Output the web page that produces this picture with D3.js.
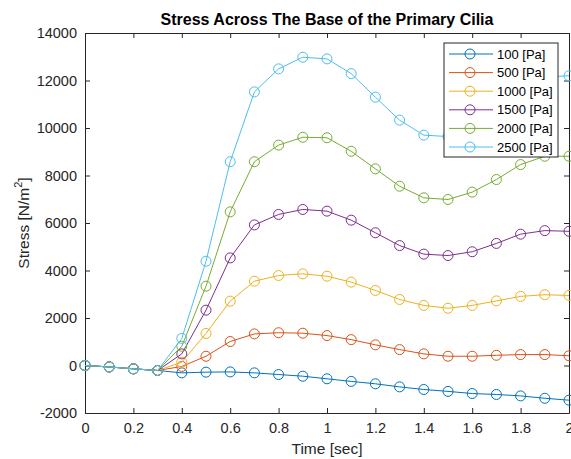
<!DOCTYPE html>
<html>
  <head>
    <meta charset="utf-8">
    <style>
      body { margin: 0; background: #fff; overflow: hidden; }
      text { font-family: "Liberation Sans", Arial, sans-serif; fill: #262626; }
      .axis path, .axis line { stroke: #262626; }
    </style>
  </head>
  <body>
    <svg width="571" height="459"></svg>
  </body>
  <script src="https://d3js.org/d3.v7.min.js"></script>
  <script>
    const time = [0, 0.1, 0.2, 0.3, 0.4, 0.5, 0.6, 0.7, 0.8, 0.9, 1.0,
                  1.1, 1.2, 1.3, 1.4, 1.5, 1.6, 1.7, 1.8, 1.9, 2.0];
    const labels = ['100 [Pa]', '500 [Pa]', '1000 [Pa]', '1500 [Pa]', '2000 [Pa]', '2500 [Pa]'];
    const colors = ['#0072BD', '#D95319', '#EDB120', '#7E2F8E', '#77AC30', '#4DBEEE'];

    const s100  = [0, -60, -140, -210, -310, -280, -270, -310, -380, -450, -560,
                   -670, -770, -900, -1010, -1090, -1180, -1220, -1280, -1380, -1460];
    const s500  = [0, -60, -140, -210, -40, 390, 1010, 1330, 1380, 1360, 1260,
                   1090, 870, 670, 490, 390, 390, 430, 460, 460, 410];
    const s1000 = [0, -60, -140, -210, 140, 1350, 2710, 3550, 3790, 3860, 3760,
                   3510, 3160, 2780, 2530, 2410, 2530, 2720, 2910, 2980, 2950];
    const s1500 = [0, -60, -140, -210, 490, 2330, 4530, 5920, 6360, 6570, 6500,
                   6120, 5590, 5050, 4690, 4630, 4790, 5140, 5530, 5680, 5650];
    const s2000 = [0, -60, -140, -210, 810, 3340, 6470, 8580, 9280, 9610, 9590,
                   9020, 8280, 7550, 7060, 6990, 7300, 7830, 8460, 8810, 8810];
    const s2500 = [0, -60, -140, -210, 1140, 4390, 8580, 11520, 12490, 12980, 12910,
                   12290, 11300, 10330, 9700, 9640, 10050, 10800, 11650, 12150, 12200];
    const series = [s100, s500, s1000, s1500, s2000, s2500];

    const xTicks = [0, 0.2, 0.4, 0.6, 0.8, 1, 1.2, 1.4, 1.6, 1.8, 2];
    const yTicks = [-2000, 0, 2000, 4000, 6000, 8000, 10000, 12000, 14000];

    const svg = d3.select('svg');
    const pl = 85, pr = 569, pt = 33, pb = 413;

    const x = d3.scaleLinear().domain([0, 2]).range([pl, pr]);
    const y = d3.scaleLinear().domain([-2000, 14000]).range([pb, pt]);
    const plain = d => String(d);

    // box with ticks pointing in, like matlab
    svg.append('g').attr('class', 'axis')
      .attr('transform', `translate(0,${pb})`)
      .call(d3.axisBottom(x).tickValues(xTicks).tickSizeInner(-5).tickSizeOuter(0).tickPadding(10).tickFormat(plain))
      .call(g => g.selectAll('text').style('font-size', '14.5px'));
    svg.append('g').attr('class', 'axis')
      .attr('transform', `translate(0,${pt})`)
      .call(d3.axisTop(x).tickValues(xTicks).tickSizeInner(-5).tickSizeOuter(0).tickFormat(''));
    svg.append('g').attr('class', 'axis')
      .attr('transform', `translate(${pl},0)`)
      .call(d3.axisLeft(y).tickValues(yTicks).tickSizeInner(-5).tickSizeOuter(0).tickPadding(8).tickFormat(plain))
      .call(g => g.selectAll('text').style('font-size', '14.5px'));
    svg.append('g').attr('class', 'axis')
      .attr('transform', `translate(${pr},0)`)
      .call(d3.axisRight(y).tickValues(yTicks).tickSizeInner(-5).tickSizeOuter(0).tickFormat(''));
    svg.selectAll('.axis .domain').attr('stroke-width', 1);

    const line = d3.line().x((d, i) => x(time[i])).y(d => y(d));

    const lines = svg.append('g');
    series.forEach((s, k) => {
      const g = lines.append('g');
      g.append('path')
        .attr('d', line(s))
        .attr('fill', 'none')
        .attr('stroke', colors[k])
        .attr('stroke-width', 1);
      g.selectAll('circle')
        .data(s)
        .enter()
        .append('circle')
        .attr('cx', (d, i) => x(time[i]))
        .attr('cy', d => y(d))
        .attr('r', 5)
        .attr('fill', 'none')
        .attr('stroke', colors[k])
        .attr('stroke-width', 1);
    });

    // title and labels
    svg.append('text')
      .attr('x', (pl + pr) / 2).attr('y', 25)
      .attr('text-anchor', 'middle')
      .style('font-size', '16px').style('font-weight', 'bold')
      .style('fill', '#000')
      .text('Stress Across The Base of the Primary Cilia');
    svg.append('text')
      .attr('x', (pl + pr) / 2).attr('y', 454)
      .attr('text-anchor', 'middle')
      .style('font-size', '15.5px')
      .text('Time [sec]');
    const yl = svg.append('text')
      .attr('transform', `translate(29,${(pt + pb) / 2}) rotate(-90)`)
      .attr('text-anchor', 'middle')
      .style('font-size', '15.5px');
    yl.append('tspan').text('Stress [N/m');
    yl.append('tspan').attr('dy', -7).style('font-size', '11px').text('2');
    yl.append('tspan').attr('dy', 7).text(']');

    // legend
    const lg = svg.append('g').attr('transform', 'translate(444,43)');
    lg.append('rect')
      .attr('width', 114).attr('height', 114)
      .attr('fill', '#fff').attr('stroke', '#262626').attr('stroke-width', 1);
    labels.forEach((lab, k) => {
      const yy = 11 + k * 18.6;
      lg.append('line').attr('x1', 5).attr('x2', 49).attr('y1', yy).attr('y2', yy)
        .attr('stroke', colors[k]);
      lg.append('circle').attr('cx', 26).attr('cy', yy).attr('r', 5)
        .attr('fill', 'none').attr('stroke', colors[k]);
      lg.append('text').attr('x', 53).attr('y', yy + 4.5)
        .style('font-size', '13px').style('fill', '#000').text(lab);
    });
  </script>
</html>
